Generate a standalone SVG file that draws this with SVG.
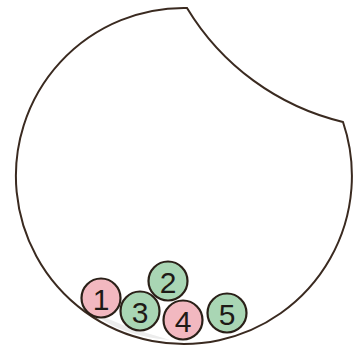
<svg xmlns="http://www.w3.org/2000/svg" width="354" height="354" viewBox="0 0 354 354">
<style>
.outline{fill:none;stroke:#3a2a20;stroke-width:2}
.ball{stroke:#2a2018;stroke-width:2.2}
.pink{fill:#f2b8c0}
.green{fill:#a9d6b4}
.num{font-family:"Liberation Sans",Arial,sans-serif;font-size:30px;fill:#1e1a16;text-anchor:middle;dominant-baseline:central}
</style>
<rect width="354" height="354" fill="#ffffff"/>
<path d="M 92 312 Q 120 336 170 340 L 130 328 Z" fill="#ececec"/>
<path class="outline" d="M 187 8 A 250 250 0 0 0 343 122 A 168 168 0 1 1 187 8 Z"/>
<g id="ball1"><circle class="ball pink" cx="101" cy="298" r="19.5"/><text class="num" x="101" y="299">1</text></g>
<g id="ball2"><circle class="ball green" cx="168" cy="281" r="19.5"/><text class="num" x="168" y="282">2</text></g>
<g id="ball3"><circle class="ball green" cx="140" cy="311" r="19.5"/><text class="num" x="140" y="312">3</text></g>
<g id="ball4"><circle class="ball pink" cx="183" cy="320" r="19.5"/><text class="num" x="183" y="321">4</text></g>
<g id="ball5"><circle class="ball green" cx="227" cy="313" r="19.5"/><text class="num" x="227" y="314">5</text></g>
</svg>
